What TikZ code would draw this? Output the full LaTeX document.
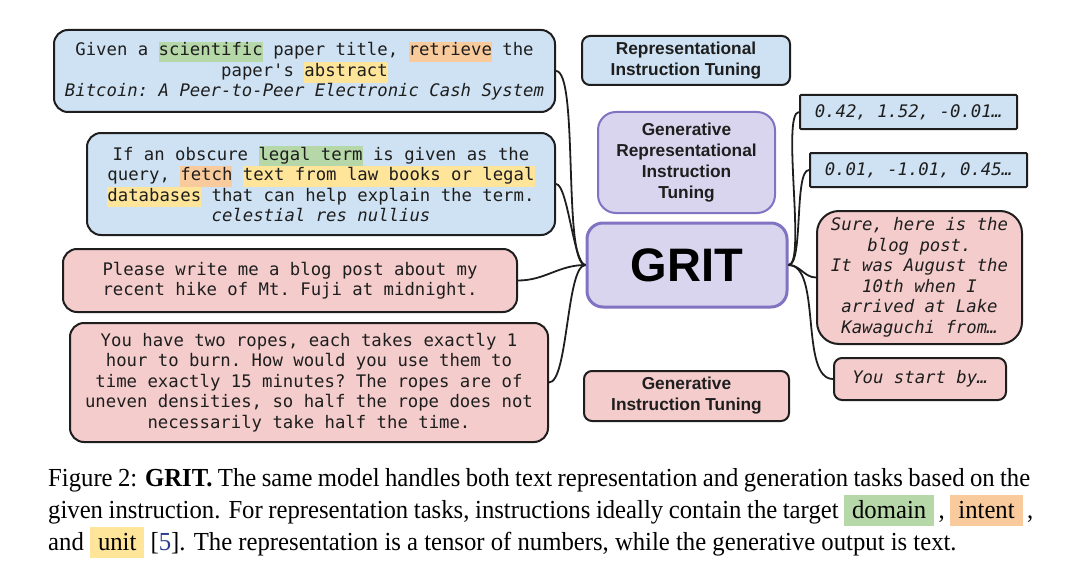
\documentclass[tikz,border=0pt]{standalone}
\usepackage{fontspec}
\setmainfont{Liberation Serif}[FakeStretch=0.95]
\setsansfont{Liberation Sans}
\setmonofont{DejaVu Sans Mono}
\usetikzlibrary{positioning}

\definecolor{boxline}{HTML}{1E1E1E}
\definecolor{promptblue}{HTML}{CFE2F3}
\definecolor{promptpink}{HTML}{F4CCCC}
\definecolor{gritfill}{HTML}{D9D5EE}
\definecolor{gritdraw}{HTML}{8272C2}
\definecolor{hldomain}{HTML}{B6D7A8}
\definecolor{hlintent}{HTML}{F9CB9C}
\definecolor{hlunit}{HTML}{FFE599}
\definecolor{citeblue}{HTML}{2B3D8F}

\newcommand{\hlword}[2]{{\setlength{\fboxsep}{0pt}\colorbox{#1}{\strut #2}}}
\newcommand{\capword}[2]{{\setlength{\fboxsep}{0pt}\colorbox{#1}{\rule[-8pt]{0pt}{31pt}\hspace{8pt}#2\hspace{8pt}}}}

\begin{document}
\begin{tikzpicture}[
  x=1pt, y=-1pt,
  mono/.style={font=\ttfamily\fontsize{17.3}{20.5}\selectfont, text=boxline},
  prompt/.style={
    rectangle, rounded corners=14pt,
    draw=boxline, line width=2pt, fill=promptblue,
    align=center, inner sep=2pt, mono
  },
  genprompt/.style={prompt, fill=promptpink},
  tag/.style={
    rectangle, rounded corners=8pt,
    draw=boxline, line width=2pt,
    align=center, inner sep=2pt, text=boxline,
    font=\sffamily\bfseries\fontsize{17.3}{21}\selectfont
  },
  hub/.style={
    rectangle, rounded corners=16pt,
    draw=gritdraw, line width=3pt, fill=gritfill,
    align=center, inner sep=2pt
  },
  vec/.style={
    rectangle, rounded corners=1pt,
    draw=boxline, line width=2pt, fill=promptblue,
    inner sep=2pt, mono, font=\ttfamily\itshape\fontsize{17.3}{20.5}\selectfont
  },
  reply/.style={genprompt, font=\ttfamily\itshape\fontsize{17.3}{20.5}\selectfont},
  link/.style={line width=1.8pt, boxline},
  capline/.style={inner sep=0pt, anchor=base west,
    font=\rmfamily\fontsize{26}{32}\selectfont}
]
\useasboundingbox (0,0) rectangle (1080,586);

%% ── Left column: instructions ───────────────────────────────────────
\node[prompt, minimum width=501pt, minimum height=82pt] (sci) at (304.5,71) {
  Given a \hlword{hldomain}{scientific} paper title, \hlword{hlintent}{retrieve} the\\
  paper's \hlword{hlunit}{abstract}\\
  \textit{Bitcoin: A Peer-to-Peer Electronic Cash System}
};
\node[prompt, minimum width=468pt, minimum height=102pt] (legal) at (321,184) {
  If an obscure \hlword{hldomain}{legal term} is given as the\\
  query, \hlword{hlintent}{fetch} \hlword{hlunit}{text from law books or legal}\\
  \hlword{hlunit}{databases} that can help explain the term.\\
  \textit{celestial res nullius}
};
\node[genprompt, minimum width=454pt, minimum height=63pt] (blog) at (290,280.5) {
  Please write me a blog post about my\\
  recent hike of Mt. Fuji at midnight.
};
\node[genprompt, minimum width=478pt, minimum height=119pt] (ropes) at (309,382.5) {
  You have two ropes, each takes exactly 1\\
  hour to burn. How would you use them to\\
  time exactly 15 minutes? The ropes are of\\
  uneven densities, so half the rope does not\\
  necessarily take half the time.
};

%% ── Middle column: model and tuning labels ──────────────────────────
\node[tag, fill=promptblue, minimum width=208pt, minimum height=49pt] (rit) at (686,60.5)
  {Representational\\Instruction Tuning};
\node[tag, draw=gritdraw, fill=gritfill, rounded corners=18pt,
      minimum width=177pt, minimum height=101pt] (grit-tuning) at (686.5,162.5)
  {Generative\\Representational\\Instruction\\Tuning};
\node[hub, minimum width=200pt, minimum height=84pt,
      font=\sffamily\bfseries\fontsize{47}{50}\selectfont] (grit) at (687,265) {GRIT};
\node[tag, fill=promptpink, minimum width=205pt, minimum height=50pt] (git) at (686.5,396)
  {Generative\\Instruction Tuning};

%% ── Right column: outputs ───────────────────────────────────────────
\node[vec, minimum width=217pt, minimum height=34pt] (vecA) at (908.5,112) {0.42, 1.52, -0.01…};
\node[vec, minimum width=217pt, minimum height=34pt] (vecB) at (918.5,170) {0.01, -1.01, 0.45…};
\node[reply, rounded corners=22pt, minimum width=205pt, minimum height=133pt] (sure) at (919.5,277.5) {
  Sure, here is the\\
  blog post.\\
  It was August the\\
  10th when I\\
  arrived at Lake\\
  Kawaguchi from…
};
\node[reply, rounded corners=8pt, minimum width=172pt, minimum height=42pt] (start) at (920,379)
  {You start by…};

%% inputs -> GRIT
\foreach \a/\l in {sci/0.3, legal/0.35, blog/1, ropes/0.4}
  \draw[link, looseness=\l] (\a.east) to[out=0, in=180] (grit.west);

%% GRIT -> outputs
\foreach \b/\l in {vecA/0.3, vecB/0.4, sure/1, start/0.7}
  \draw[link, looseness=\l] (grit.east) to[out=0, in=180] (\b.west);

%% ── Caption ─────────────────────────────────────────────────────────
\node[capline] (cap1) at (48,486) {\makebox[982pt][s]{Figure 2: \textbf{GRIT.} The same model handles both text representation and generation tasks based on the}};
\node[capline] (cap2) at (48,518) {\makebox[985pt][s]{given instruction. For representation tasks, instructions ideally contain the target \capword{hldomain}{domain}\,, \capword{hlintent}{intent}\,,}};
\node[capline] (cap3) at (48,550) {and \capword{hlunit}{unit} [{\color{citeblue}5}]. The representation is a tensor of numbers, while the generative output is text.};

\end{tikzpicture}
\end{document}
